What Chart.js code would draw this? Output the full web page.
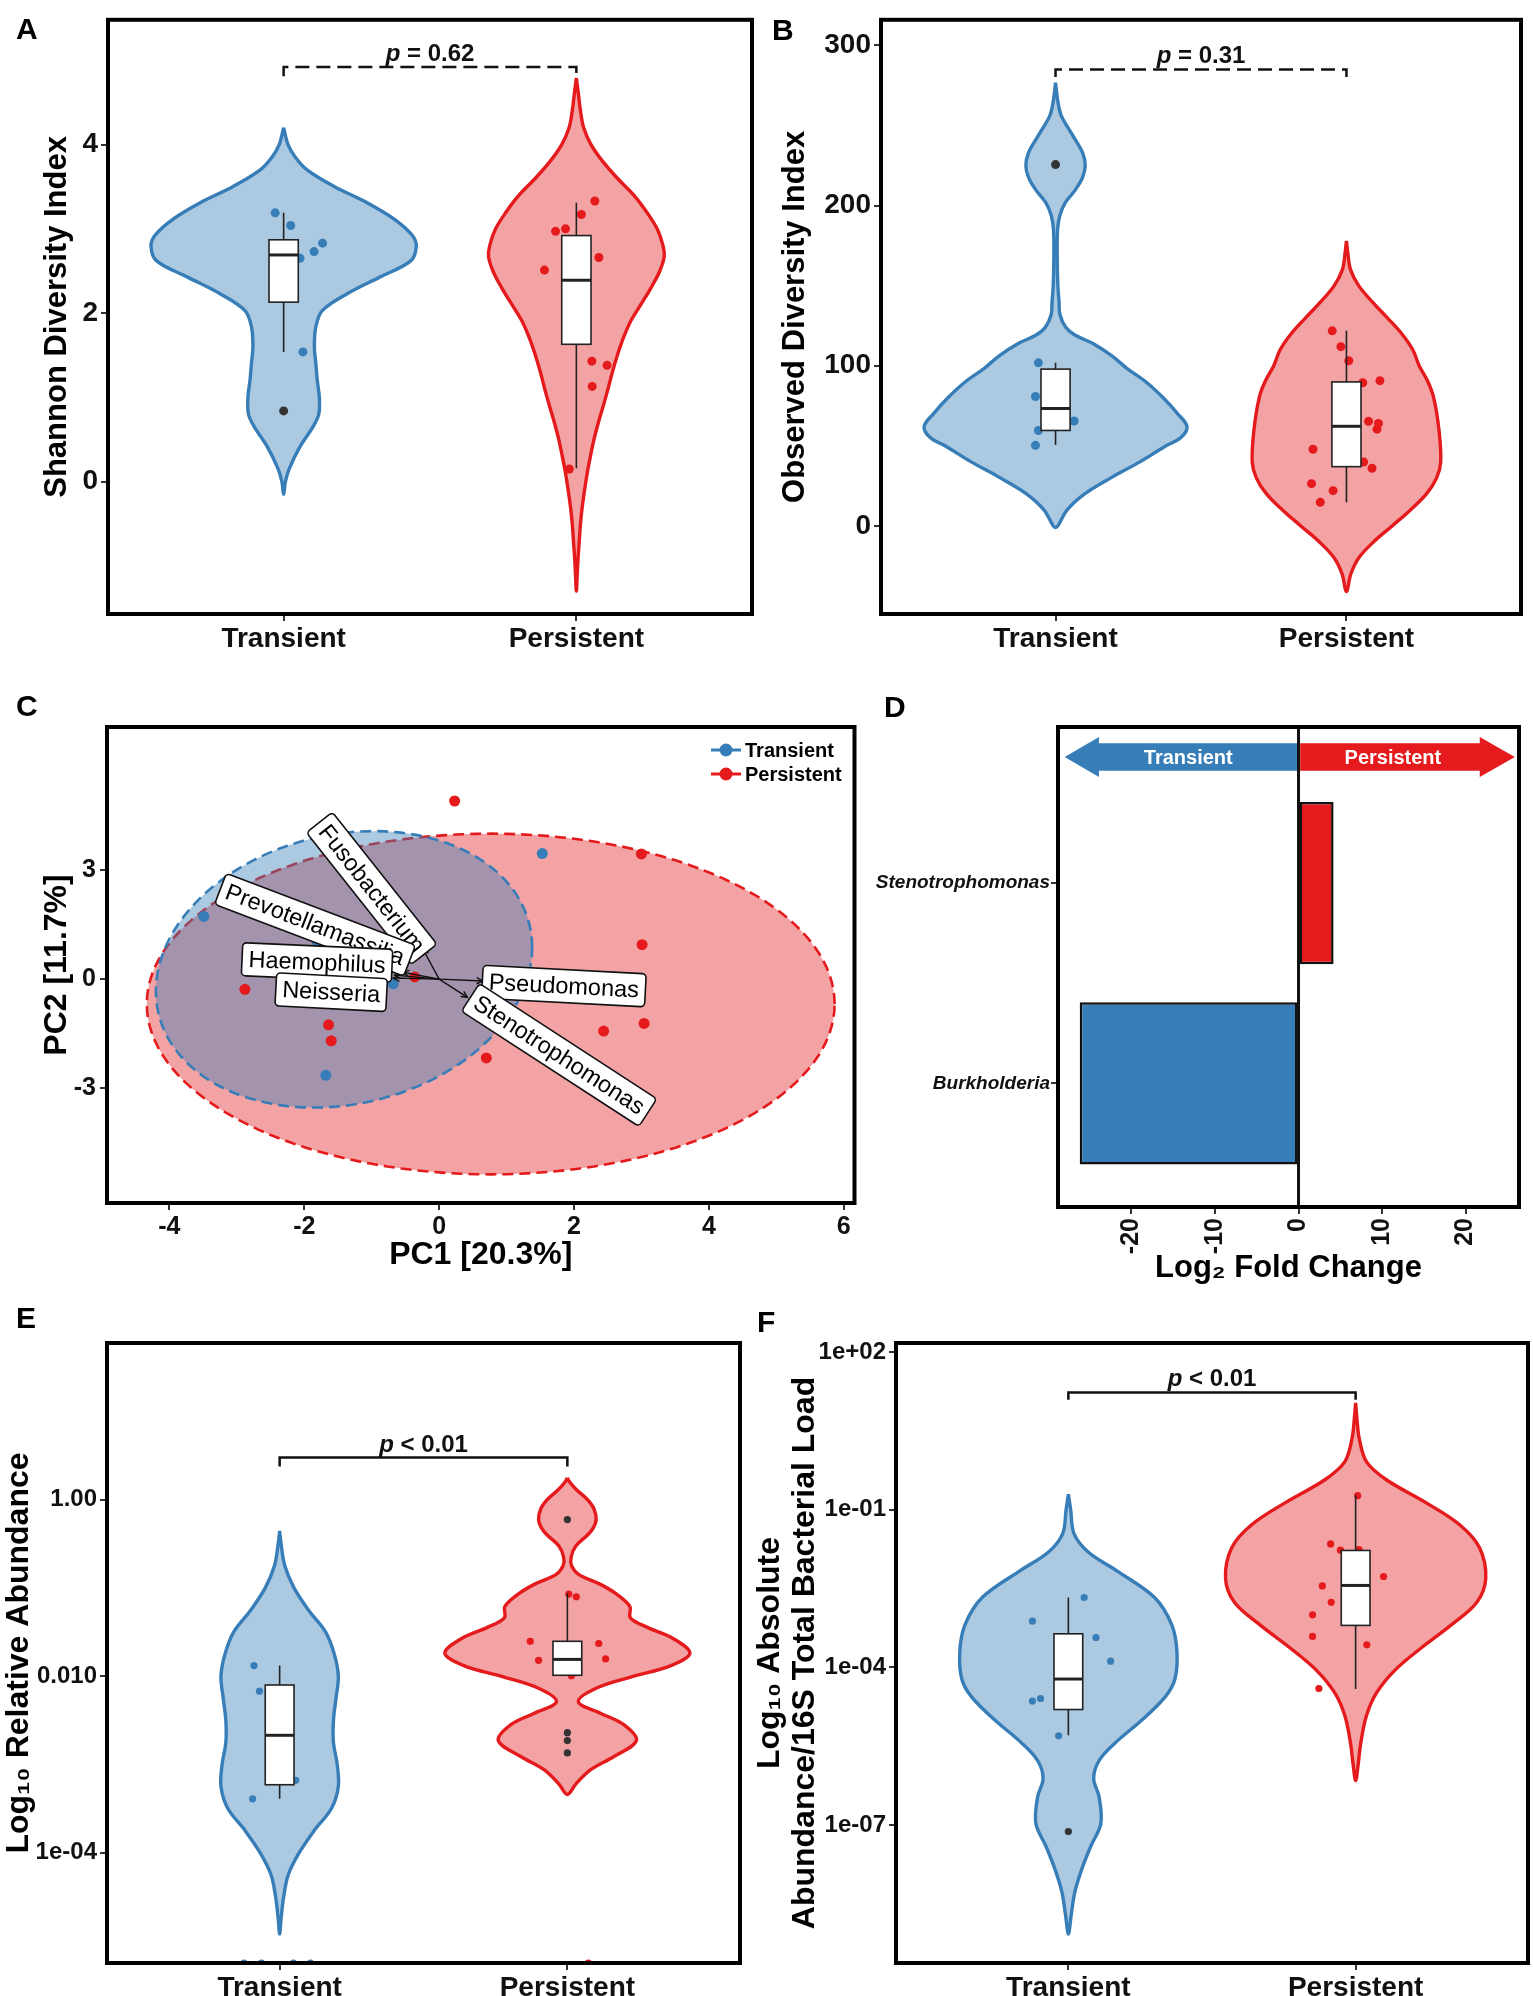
<!DOCTYPE html>
<html>
<head>
<meta charset="utf-8">
<title>Transient vs Persistent microbiome</title>
<script src="https://cdn.jsdelivr.net/npm/chart.js@4.4.0/dist/chart.umd.min.js"></script>
<style>
  html, body { margin: 0; padding: 0; background: #fff; }
  body { position: relative; width: 1533px; height: 1996px; overflow: hidden; font-family: 'Liberation Sans', Arial, sans-serif; }
  canvas { position: absolute; }
  .tag { position: absolute; font-size: 30px; font-weight: bold; line-height: 30px; color: #000; }
</style>
</head>
<body>
<canvas id="panelA" width="766" height="665" style="left:0;top:0"></canvas>
<canvas id="panelB" width="767" height="665" style="left:766px;top:0"></canvas>
<canvas id="panelC" width="860" height="600" style="left:0;top:680px"></canvas>
<canvas id="panelD" width="673" height="610" style="left:860px;top:680px"></canvas>
<canvas id="panelE" width="766" height="706" style="left:0;top:1290px"></canvas>
<canvas id="panelF" width="783" height="706" style="left:750px;top:1290px"></canvas>
<div class="tag" style="left:16px;top:14px">A</div>
<div class="tag" style="left:772px;top:15px">B</div>
<div class="tag" style="left:16px;top:691px">C</div>
<div class="tag" style="left:884px;top:692px">D</div>
<div class="tag" style="left:16px;top:1303px">E</div>
<div class="tag" style="left:757px;top:1307px">F</div>
<script>
// ---------------- data ----------------
const groups = ['Transient', 'Persistent'];

// A: Shannon diversity
const shannonRange = [-1.57, 5.48];
const shannonTicks = [0, 2, 4];
const shannonTickLabels = ['0', '2', '4'];
const shannonTrLevels = [4.2, 4.0, 3.85, 3.7, 3.5, 3.31, 3.11, 2.92, 2.79, 2.62, 2.43, 2.23, 2.03, 1.84, 1.6, 1.4, 1.2, 1.0, 0.8, 0.65, 0.41, 0.16, 0.0, -0.15];
const shannonTrWidths = [0, 0.015, 0.04, 0.08, 0.174, 0.285, 0.38, 0.44, 0.453, 0.434, 0.33, 0.217, 0.132, 0.11, 0.105, 0.11, 0.115, 0.122, 0.12, 0.1, 0.055, 0.02, 0.006, 0];
const shannonPeLevels = [4.79, 4.6, 4.4, 4.2, 4.0, 3.8, 3.6, 3.4, 3.2, 3.0, 2.8, 2.67, 2.5, 2.3, 2.1, 1.9, 1.7, 1.5, 1.3, 1.1, 0.9, 0.7, 0.5, 0.3, 0.1, -0.1, -0.3, -0.5, -0.7, -0.9, -1.1, -1.3];
const shannonPeWidths = [0, 0.007, 0.014, 0.025, 0.05, 0.09, 0.14, 0.196, 0.24, 0.276, 0.296, 0.3, 0.285, 0.255, 0.22, 0.185, 0.16, 0.14, 0.123, 0.108, 0.092, 0.075, 0.06, 0.048, 0.037, 0.028, 0.02, 0.014, 0.01, 0.006, 0.003, 0];
const shannonTrJitter = [-0.029, 0.024, 0.133, 0.104, 0.056, 0.066];
const shannonTrValues = [3.19, 3.04, 2.83, 2.73, 2.65, 1.54];
const shannonPeJitter = [0.063, 0.017, -0.071, -0.037, 0.077, -0.109, 0.053, 0.105, 0.054, -0.024];
const shannonPeValues = [3.33, 3.17, 2.97, 3.0, 2.66, 2.51, 1.43, 1.38, 1.13, 0.15];
const shannonTrOutliers = [0.84];
const shannonPeOutliers = [];
// lower whisker, q1, median, q3, upper whisker
const shannonBoxTr = [1.54, 2.13, 2.69, 2.87, 3.19];
const shannonBoxPe = [0.16, 1.63, 2.39, 2.92, 3.31];
const shannonP = 'p = 0.62';

// B: observed diversity
const observedRange = [-55, 316];
const observedTicks = [0, 100, 200, 300];
const observedTickLabels = ['0', '100', '200', '300'];
const observedTrLevels = [276.7, 265, 256, 243.5, 233, 225, 217.6, 209.8, 202, 194, 185, 165, 150, 140, 132, 124, 119, 114, 106, 98.4, 90, 80, 70, 62, 55, 50, 40, 30, 20, 10, 0, -1];
const observedTrWidths = [0, 0.008, 0.02, 0.06, 0.093, 0.102, 0.093, 0.068, 0.034, 0.015, 0.007, 0.006, 0.008, 0.012, 0.015, 0.035, 0.068, 0.127, 0.195, 0.245, 0.31, 0.37, 0.42, 0.452, 0.43, 0.38, 0.29, 0.19, 0.1, 0.04, 0.008, 0];
const observedPeLevels = [178, 170, 160, 150, 140, 130, 120, 110, 100, 90, 80, 60, 40, 30, 20, 10, 0, -10, -20, -30, -41];
const observedPeWidths = [0, 0.005, 0.014, 0.042, 0.088, 0.14, 0.19, 0.228, 0.25, 0.28, 0.3, 0.318, 0.324, 0.31, 0.275, 0.22, 0.157, 0.093, 0.042, 0.015, 0];
const observedTrJitter = [-0.059, -0.069, 0.064, -0.059, -0.069];
const observedTrValues = [101.8, 80.8, 65.5, 59.6, 50.3];
const observedPeJitter = [-0.049, -0.019, 0.008, 0.056, 0.115, 0.076, 0.11, 0.105, -0.115, 0.059, 0.088, -0.12, -0.046, -0.09];
const observedPeValues = [121.8, 111.9, 103.1, 89.4, 90.7, 65.3, 64, 60.4, 47.9, 39.9, 36, 26.4, 22, 14.8];
const observedTrOutliers = [225.6];
const observedPeOutliers = [];
const observedBoxTr = [50.5, 59.6, 73.3, 97.9, 101.8];
const observedBoxPe = [14.8, 37, 62.2, 89.9, 121.8];
const observedP = 'p = 0.31';

// C: PCA
const pcaRangeX = [-4.925, 6.16];
const pcaRangeY = [-6.17, 6.95];
const pcaTicksX = [-4, -2, 0, 2, 4, 6];
const pcaTicksY = [-3, 0, 3];
const pcaTrPC1 = [-3.49, -1.81, -0.68, -1.68, 1.53];
const pcaTrPC2 = [1.73, 1.04, -0.13, -2.65, 3.46];
const pcaPePC1 = [0.23, 3.0, 3.01, -2.88, -0.36, -1.64, -1.6, 2.44, 3.04, 0.70];
const pcaPePC2 = [4.91, 3.45, 0.95, -0.28, 0.06, -1.26, -1.7, -1.43, -1.22, -2.17];
// confidence ellipses: centre, radii, phase
const ellipseTr = { cx: -1.41, cy: 0.27, rx: 2.79, ry: 3.81, phi: 0.159 };
const ellipsePe = { cx: 0.765, cy: -0.685, rx: 5.1, ry: 4.695, phi: 0 };
const loadingGenus = ['Fusobacterium', 'Prevotellamassilia', 'Haemophilus', 'Neisseria', 'Pseudomonas', 'Stenotrophomonas'];
const loadingPC1 = [-0.24, -0.54, -0.66, -0.68, 0.65, 0.42];
const loadingPC2 = [0.83, 0.19, 0.11, 0.03, -0.05, -0.5];

// D: differential abundance
const daGenus = ['Burkholderia', 'Stenotrophomonas'];
const daLog2FC = [-26.2, 4.2];
const daRangeX = [-28.8, 26.4];
const daRangeY = [0.383, 2.78];
const daTicksX = [-20, -10, 0, 10, 20];

// E: relative abundance (log10)
const relRange = [-5.25, 1.775];
const relTicks = [0, -2, -4];
const relTickLabels = ['1.00', '0.010', '1e-04'];
const relTrLevels = [-0.354, -0.5, -0.75, -1.0, -1.25, -1.5, -1.75, -2.0, -2.25, -2.5, -2.75, -3.0, -3.25, -3.5, -3.75, -4.0, -4.25, -4.5, -4.75, -4.92];
const relTrWidths = [0, 0.005, 0.018, 0.05, 0.1, 0.16, 0.19, 0.204, 0.196, 0.187, 0.187, 0.2, 0.204, 0.18, 0.12, 0.068, 0.03, 0.014, 0.005, 0];
const relPeLevels = [0.246, 0.2, 0.118, 0.0, -0.1, -0.226, -0.32, -0.395, -0.523, -0.65, -0.75, -0.85, -0.96, -1.06, -1.21, -1.34, -1.45, -1.57, -1.74, -1.88, -2.01, -2.14, -2.29, -2.42, -2.55, -2.73, -2.91, -3.06, -3.22, -3.34];
const relPeWidths = [0, 0.008, 0.03, 0.07, 0.092, 0.1, 0.09, 0.072, 0.03, 0.013, 0.015, 0.04, 0.115, 0.166, 0.217, 0.219, 0.28, 0.366, 0.426, 0.36, 0.22, 0.098, 0.038, 0.115, 0.196, 0.24, 0.162, 0.081, 0.03, 0];
const relTrJitter = [-0.089, -0.07, 0.056, -0.094];
const relTrValues = [-1.88, -2.17, -3.18, -3.39];
const relPeJitter = [0.005, 0.031, -0.129, -0.1, 0.109, 0.133, 0.014];
const relPeValues = [-1.07, -1.10, -1.605, -1.82, -1.63, -1.805, -1.995];
const relTrZeroJitter = [-0.124, -0.063, 0.048, 0.107];   // zero abundance, shown on the lower edge
const relPeZeroJitter = [0.073];
const relTrOutliers = [];
const relPeOutliers = [-0.226, -2.64, -2.73, -2.87];
const relBoxTr = [-3.39, -3.23, -2.67, -2.1, -1.88];
const relBoxPe = [-1.995, -1.99, -1.81, -1.605, -1.06];
const relP = 'p < 0.01';

// F: absolute abundance / 16S load (log10)
const absRange = [-9.62, 2.17];
const absTicks = [2, -1, -4, -7];
const absTickLabels = ['1e+02', '1e-01', '1e-04', '1e-07'];
const absTrLevels = [-0.707, -1.0, -1.46, -1.81, -2.15, -2.67, -3.19, -3.7, -4.22, -4.56, -5.0, -5.42, -5.77, -6.11, -6.46, -6.97, -7.4, -7.83, -8.26, -8.7, -9.07];
const absTrWidths = [0, 0.008, 0.02, 0.07, 0.165, 0.3, 0.36, 0.378, 0.371, 0.337, 0.256, 0.166, 0.107, 0.088, 0.107, 0.113, 0.078, 0.047, 0.023, 0.01, 0];
const absPeLevels = [1.03, 0.7, 0.34, -0.09, -0.43, -0.86, -1.29, -1.72, -2.3, -2.76, -3.19, -3.62, -4.05, -4.48, -4.91, -5.43, -5.88, -6.15];
const absPeWidths = [0, 0.005, 0.013, 0.038, 0.107, 0.243, 0.363, 0.431, 0.453, 0.422, 0.333, 0.23, 0.137, 0.073, 0.038, 0.018, 0.008, 0];
const absTrJitter = [0.055, -0.125, 0.096, 0.147, -0.125, -0.097, -0.034];
const absTrValues = [-2.67, -3.12, -3.43, -3.88, -4.64, -4.59, -5.30];
const absPeJitter = [0.007, -0.087, -0.053, 0.012, 0.097, -0.116, -0.085, -0.15, -0.15, 0.039, -0.128];
const absPeValues = [-0.733, -1.65, -1.77, -1.76, -2.27, -2.45, -2.76, -3.0, -3.41, -3.57, -4.4];
const absTrOutliers = [-7.12];
const absPeOutliers = [];
const absBoxTr = [-5.29, -4.80, -4.22, -3.36, -2.67];
const absBoxPe = [-4.41, -3.2, -2.44, -1.775, -0.73];
const absP = 'p < 0.01';

// ---------------- look ----------------
const FONT = "'Liberation Sans', Arial, Helvetica, sans-serif";
Chart.defaults.font.family = FONT;
Chart.defaults.font.weight = 'bold';
Chart.defaults.color = '#111';

// the lower panels use a condensed face when one is installed
function hasFont(name) {
  const c = document.createElement('canvas').getContext('2d');
  c.font = 'bold 40px monospace';
  const a = c.measureText('Transient 0.010').width;
  c.font = `bold 40px '${name}', monospace`;
  return Math.abs(c.measureText('Transient 0.010').width - a) > 0.5;
}
const NARROW = ['Liberation Sans Narrow', 'Arial Narrow'].find(hasFont);
const LOW_FONT = NARROW ? `'${NARROW}', ${FONT}` : FONT;
const LOW_SCALE = NARROW ? 1 / 0.85 : 1;

const BLUE = '#377EB8', BLUE_FILL = 'rgba(55,126,184,0.42)';
const RED = '#E41A1C', RED_FILL = 'rgba(228,26,28,0.40)';
const INK = '#111';
const BOX_HALF = 0.05;

function tickGrid() {
  return { display: true, drawOnChartArea: false, drawTicks: true, tickLength: 7, color: '#333', lineWidth: 2, offset: false };
}
function fixedTicks(values) {
  return scale => { scale.ticks = values.map(v => ({ value: v })); };
}

function violinOutline(center, levels, widths) {
  const right = levels.map((y, i) => ({ x: center + widths[i], y }));
  const left = levels.map((y, i) => ({ x: center - widths[i], y })).reverse();
  return right.concat(left.slice(1));
}
function jitter(center, offsets, values) {
  return values.map((v, i) => ({ x: center + offsets[i], y: v }));
}

function drawFrame(chart) {
  const { ctx, chartArea: a } = chart;
  ctx.save();
  ctx.lineWidth = 4;
  ctx.strokeStyle = '#000';
  ctx.strokeRect(a.left, a.top, a.right - a.left, a.bottom - a.top);
  ctx.restore();
}

function drawPValue(ctx, cx, baseY, text, family, size) {
  const rest = text.slice(1);
  ctx.font = `italic bold ${size}px ${family}`;
  const w1 = ctx.measureText('p').width;
  ctx.font = `bold ${size}px ${family}`;
  const w2 = ctx.measureText(rest).width;
  const x0 = cx - (w1 + w2) / 2;
  ctx.fillStyle = INK;
  ctx.textAlign = 'left';
  ctx.textBaseline = 'alphabetic';
  ctx.font = `italic bold ${size}px ${family}`;
  ctx.fillText('p', x0, baseY);
  ctx.font = `bold ${size}px ${family}`;
  ctx.fillText(rest, x0 + w1, baseY);
}

function drawBoxes(chart, boxes) {
  const { ctx, scales: { x, y } } = chart;
  boxes.forEach((b, i) => {
    const c = i + 1;
    const [lo, q1, med, q3, hi] = b;
    const xc = x.getPixelForValue(c);
    const xl = x.getPixelForValue(c - BOX_HALF), xr = x.getPixelForValue(c + BOX_HALF);
    const yTop = y.getPixelForValue(q3), yBot = y.getPixelForValue(q1);
    ctx.save();
    ctx.strokeStyle = '#222';
    ctx.lineWidth = 1.6;
    ctx.beginPath();
    ctx.moveTo(xc, y.getPixelForValue(hi)); ctx.lineTo(xc, yTop);
    ctx.moveTo(xc, yBot); ctx.lineTo(xc, y.getPixelForValue(lo));
    ctx.stroke();
    ctx.fillStyle = '#fff';
    ctx.fillRect(xl, yTop, xr - xl, yBot - yTop);
    ctx.strokeRect(xl, yTop, xr - xl, yBot - yTop);
    ctx.lineWidth = 3;
    const ym = y.getPixelForValue(med);
    ctx.beginPath(); ctx.moveTo(xl, ym); ctx.lineTo(xr, ym); ctx.stroke();
    ctx.restore();
  });
}

function drawBracket(chart, br, family, size) {
  const { ctx, scales: { x, y } } = chart;
  const x1 = x.getPixelForValue(1), x2 = x.getPixelForValue(2);
  const yt = y.getPixelForValue(br.y), yb = y.getPixelForValue(br.y - br.drop);
  ctx.save();
  ctx.strokeStyle = INK;
  ctx.lineWidth = 2.5;
  if (br.dashed) ctx.setLineDash([14, 7]);
  ctx.beginPath();
  ctx.moveTo(x1, yb); ctx.lineTo(x1, yt); ctx.lineTo(x2, yt); ctx.lineTo(x2, yb);
  ctx.stroke();
  ctx.setLineDash([]);
  drawPValue(ctx, (x1 + x2) / 2, yt - 6, br.text, family, size);
  ctx.restore();
}

function violinExtras(cfg) {
  return {
    id: 'violinExtras',
    beforeDatasetDraw(chart, args) {
      const ds = chart.data.datasets[args.index];
      if (!ds.violinFill) return;
      const line = args.meta.dataset;
      const ctx = chart.ctx;
      if (line.updateControlPoints) line.updateControlPoints(chart.chartArea, 'x');
      ctx.save();
      ctx.beginPath();
      line.path(ctx);
      ctx.closePath();
      ctx.fillStyle = ds.violinFill;
      ctx.fill();
      ctx.restore();
    },
    afterDatasetDraw(chart, args) {
      if (chart.data.datasets[args.index].boxesAfter) drawBoxes(chart, cfg.boxes);
    },
    afterDraw(chart) {
      drawBracket(chart, cfg.bracket, cfg.family, 24 * cfg.fs);
      drawFrame(chart);
    }
  };
}

function violinPanel(id, cfg) {
  cfg.family = cfg.family || FONT;
  cfg.fs = cfg.fs || 1;
  const dot = cfg.dot;
  const outliers = cfg.trOutliers.map(v => ({ x: 1, y: v })).concat(cfg.peOutliers.map(v => ({ x: 2, y: v })));
  const datasets = [
    { data: outliers, backgroundColor: '#333', pointRadius: dot, borderWidth: 0 },
    { data: jitter(1, cfg.trJitter, cfg.trValues), backgroundColor: BLUE, pointRadius: dot, borderWidth: 0, boxesAfter: true },
    { data: jitter(2, cfg.peJitter, cfg.peValues), backgroundColor: RED, pointRadius: dot, borderWidth: 0 }
  ];
  (cfg.edge || []).forEach(e => {
    datasets.push({ data: e.offsets.map(d => ({ x: e.center + d, y: cfg.range[0] })), backgroundColor: e.color, pointRadius: dot, borderWidth: 0, clip: 0 });
  });
  [[1, cfg.trLevels, cfg.trWidths, BLUE, BLUE_FILL], [2, cfg.peLevels, cfg.peWidths, RED, RED_FILL]].forEach(([c, lv, w, line, fill]) => {
    datasets.push({ data: violinOutline(c, lv, w), showLine: true, pointRadius: 0, borderColor: line, borderWidth: 3.4, borderJoinStyle: 'round', fill: false, tension: 0.35, violinFill: fill });
  });

  const titleSize = (cfg.titleSize || 31) * cfg.fs;
  const linePx = cfg.titleLine || titleSize * 1.2;

  return new Chart(document.getElementById(id), {
    type: 'scatter',
    data: { datasets },
    options: {
      responsive: false,
      animation: false,
      events: [],
      layout: { padding: { top: cfg.padTop, right: cfg.padRight, left: 0, bottom: 0 } },
      plugins: { legend: { display: false }, tooltip: { enabled: false } },
      scales: {
        x: {
          type: 'linear', min: 0.4, max: 2.6, bounds: 'data',
          afterBuildTicks: fixedTicks([1, 2]),
          afterFit: s => { s.height = cfg.xHeight; },
          ticks: { callback: v => groups[v - 1], font: { family: cfg.family, size: 28 * cfg.fs, weight: 'bold' }, color: INK, padding: 1, autoSkip: false, maxRotation: 0 },
          grid: tickGrid(),
          border: { display: false }
        },
        y: {
          type: 'linear', min: cfg.range[0], max: cfg.range[1], bounds: 'data',
          afterBuildTicks: fixedTicks(cfg.ticks),
          afterFit: s => { s.width = cfg.yWidth; },
          ticks: { callback: v => cfg.tickLabels[cfg.ticks.indexOf(v)], font: { family: cfg.family, size: cfg.tickSize * cfg.fs, weight: 'bold' }, color: INK, padding: 3, autoSkip: false },
          grid: tickGrid(),
          border: { display: false },
          title: {
            display: true, text: cfg.title, color: '#000',
            font: { family: cfg.family, size: titleSize, weight: 'bold', lineHeight: linePx / titleSize },
            padding: { top: cfg.titleCenter - linePx / 2, bottom: 0 }
          }
        }
      }
    },
    plugins: [violinExtras(cfg)]
  });
}

// ---------------- A ----------------
violinPanel('panelA', {
  range: shannonRange, ticks: shannonTicks, tickLabels: shannonTickLabels,
  trLevels: shannonTrLevels, trWidths: shannonTrWidths, peLevels: shannonPeLevels, peWidths: shannonPeWidths,
  trJitter: shannonTrJitter, trValues: shannonTrValues, peJitter: shannonPeJitter, peValues: shannonPeValues,
  trOutliers: shannonTrOutliers, peOutliers: shannonPeOutliers,
  boxes: [shannonBoxTr, shannonBoxPe],
  bracket: { y: 4.92, drop: 0.11, dashed: true, text: shannonP },
  title: 'Shannon Diversity Index', titleCenter: 57, tickSize: 28,
  padTop: 8, padRight: 14, yWidth: 108, xHeight: 51, dot: 4.5
});

// ---------------- B ----------------
violinPanel('panelB', {
  range: observedRange, ticks: observedTicks, tickLabels: observedTickLabels,
  trLevels: observedTrLevels, trWidths: observedTrWidths, peLevels: observedPeLevels, peWidths: observedPeWidths,
  trJitter: observedTrJitter, trValues: observedTrValues, peJitter: observedPeJitter, peValues: observedPeValues,
  trOutliers: observedTrOutliers, peOutliers: observedPeOutliers,
  boxes: [observedBoxTr, observedBoxPe],
  bracket: { y: 285, drop: 4.7, dashed: true, text: observedP },
  title: 'Observed Diversity Index', titleCenter: 29, tickSize: 28,
  padTop: 8, padRight: 12, yWidth: 115, xHeight: 51, dot: 4.5
});

// ---------------- E ----------------
violinPanel('panelE', {
  range: relRange, ticks: relTicks, tickLabels: relTickLabels,
  trLevels: relTrLevels, trWidths: relTrWidths, peLevels: relPeLevels, peWidths: relPeWidths,
  trJitter: relTrJitter, trValues: relTrValues, peJitter: relPeJitter, peValues: relPeValues,
  trOutliers: relTrOutliers, peOutliers: relPeOutliers,
  edge: [{ center: 1, offsets: relTrZeroJitter, color: BLUE }, { center: 2, offsets: relPeZeroJitter, color: RED }],
  boxes: [relBoxTr, relBoxPe],
  bracket: { y: 0.477, drop: 0.1, dashed: false, text: relP },
  title: 'Log\u2081\u2080 Relative Abundance', titleCenter: 19, titleSize: 32, titleLine: 34, tickSize: 24,
  family: LOW_FONT, fs: LOW_SCALE,
  padTop: 53, padRight: 26, yWidth: 107, xHeight: 33, dot: 3.6
});

// ---------------- F ----------------
violinPanel('panelF', {
  range: absRange, ticks: absTicks, tickLabels: absTickLabels,
  trLevels: absTrLevels, trWidths: absTrWidths, peLevels: absPeLevels, peWidths: absPeWidths,
  trJitter: absTrJitter, trValues: absTrValues, peJitter: absPeJitter, peValues: absPeValues,
  trOutliers: absTrOutliers, peOutliers: absPeOutliers,
  boxes: [absBoxTr, absBoxPe],
  bracket: { y: 1.23, drop: 0.14, dashed: false, text: absP },
  title: ['Log\u2081\u2080 Absolute', 'Abundance/16S Total Bacterial Load'], titleCenter: 20, titleSize: 32, titleLine: 35, tickSize: 24,
  family: LOW_FONT, fs: LOW_SCALE,
  padTop: 53, padRight: 5, yWidth: 146, xHeight: 33, dot: 3.6
});

// ---------------- C: PCA biplot ----------------
const labelPlacement = [
  { pc1: -1.0, pc2: 2.5, angle: 51.6 },
  { pc1: -1.84, pc2: 1.5, angle: 20.8 },
  { pc1: -1.81, pc2: 0.46, angle: 2.5 },
  { pc1: -1.6, pc2: -0.36, angle: 3 },
  { pc1: 1.85, pc2: -0.19, angle: 3 },
  { pc1: 1.78, pc2: -2.09, angle: 33 }
];

function ellipsePath(ctx, x, y, e) {
  ctx.beginPath();
  for (let k = 0; k <= 144; k++) {
    const t = k / 144 * Math.PI * 2;
    const px = x.getPixelForValue(e.cx + e.rx * Math.cos(t));
    const py = y.getPixelForValue(e.cy + e.ry * Math.sin(t + e.phi));
    if (k === 0) ctx.moveTo(px, py); else ctx.lineTo(px, py);
  }
  ctx.closePath();
}

function drawTag(ctx, px, py, text, angle) {
  ctx.save();
  ctx.translate(px, py);
  ctx.rotate(angle * Math.PI / 180);
  ctx.font = `23.5px ${FONT}`;
  const w = ctx.measureText(text).width + 13, h = 33;
  ctx.beginPath();
  if (ctx.roundRect) ctx.roundRect(-w / 2, -h / 2, w, h, 4); else ctx.rect(-w / 2, -h / 2, w, h);
  ctx.fillStyle = '#fff';
  ctx.fill();
  ctx.lineWidth = 1.6;
  ctx.strokeStyle = INK;
  ctx.stroke();
  ctx.fillStyle = '#000';
  ctx.textAlign = 'center';
  ctx.textBaseline = 'middle';
  ctx.fillText(text, 0, 1);
  ctx.restore();
}

function arrowTo(ctx, x0, y0, x1, y1) {
  const a = Math.atan2(y1 - y0, x1 - x0), head = 7;
  ctx.beginPath(); ctx.moveTo(x0, y0); ctx.lineTo(x1, y1); ctx.stroke();
  ctx.beginPath();
  ctx.moveTo(x1 - head * Math.cos(a - 0.45), y1 - head * Math.sin(a - 0.45));
  ctx.lineTo(x1, y1);
  ctx.lineTo(x1 - head * Math.cos(a + 0.45), y1 - head * Math.sin(a + 0.45));
  ctx.stroke();
}

const pcaExtras = {
  id: 'pcaExtras',
  beforeDatasetsDraw(chart) {
    const { ctx, scales: { x, y } } = chart;
    ctx.save();
    ctx.lineWidth = 2.6;
    ctx.setLineDash([11, 6]);
    [[ellipsePe, RED, RED_FILL], [ellipseTr, BLUE, BLUE_FILL]].forEach(([e, line, fill]) => {
      ellipsePath(ctx, x, y, e);
      ctx.fillStyle = fill; ctx.fill();
      ctx.strokeStyle = line; ctx.stroke();
    });
    ctx.restore();
  },
  afterDatasetsDraw(chart) {
    const { ctx, scales: { x, y } } = chart;
    const ox = x.getPixelForValue(0), oy = y.getPixelForValue(0);
    ctx.save();
    ctx.strokeStyle = INK;
    ctx.lineWidth = 1.4;
    loadingGenus.forEach((g, i) => arrowTo(ctx, ox, oy, x.getPixelForValue(loadingPC1[i]), y.getPixelForValue(loadingPC2[i])));
    loadingGenus.forEach((g, i) => {
      const p = labelPlacement[i];
      drawTag(ctx, x.getPixelForValue(p.pc1), y.getPixelForValue(p.pc2), g, p.angle);
    });
    // legend
    [[groups[0], BLUE, 70], [groups[1], RED, 94]].forEach(([label, col, ly]) => {
      ctx.strokeStyle = col; ctx.lineWidth = 3;
      ctx.beginPath(); ctx.moveTo(711, ly); ctx.lineTo(741, ly); ctx.stroke();
      ctx.fillStyle = col;
      ctx.beginPath(); ctx.arc(726, ly, 6.5, 0, Math.PI * 2); ctx.fill();
      ctx.fillStyle = '#000';
      ctx.font = `bold 20px ${FONT}`;
      ctx.textAlign = 'left'; ctx.textBaseline = 'middle';
      ctx.fillText(label, 745, ly + 1);
    });
    ctx.restore();
  },
  afterDraw(chart) { drawFrame(chart); }
};

new Chart(document.getElementById('panelC'), {
  type: 'scatter',
  data: {
    datasets: [
      { label: groups[0], data: pcaTrPC1.map((v, i) => ({ x: v, y: pcaTrPC2[i] })), backgroundColor: BLUE, pointRadius: 5.5, borderWidth: 0 },
      { label: groups[1], data: pcaPePC1.map((v, i) => ({ x: v, y: pcaPePC2[i] })), backgroundColor: RED, pointRadius: 5.5, borderWidth: 0 }
    ]
  },
  options: {
    responsive: false, animation: false, events: [],
    layout: { padding: { top: 47, right: 4, left: 0, bottom: 0 } },
    plugins: { legend: { display: false }, tooltip: { enabled: false } },
    scales: {
      x: {
        type: 'linear', min: pcaRangeX[0], max: pcaRangeX[1], bounds: 'data',
        afterBuildTicks: fixedTicks(pcaTicksX),
        afterFit: s => { s.height = 77; },
        ticks: { callback: v => String(v), font: { size: 25, weight: 'bold' }, color: INK, padding: 2, autoSkip: false, maxRotation: 0 },
        grid: tickGrid(), border: { display: false },
        title: { display: true, text: 'PC1 [20.3%]', color: '#000', font: { size: 32, weight: 'bold' }, padding: { top: 0, bottom: 6 } }
      },
      y: {
        type: 'linear', min: pcaRangeY[0], max: pcaRangeY[1], bounds: 'data',
        afterBuildTicks: fixedTicks(pcaTicksY),
        afterFit: s => { s.width = 107; },
        ticks: { callback: v => String(v), font: { size: 25, weight: 'bold' }, color: INK, padding: 4, autoSkip: false },
        grid: tickGrid(), border: { display: false },
        title: { display: true, text: 'PC2 [11.7%]', color: '#000', font: { size: 32, weight: 'bold' }, padding: { top: 38, bottom: 0 } }
      }
    }
  },
  plugins: [pcaExtras]
});

// ---------------- D: log2 fold change ----------------
const daArrowY = 2.63;
const daExtras = {
  id: 'daExtras',
  afterDatasetsDraw(chart) {
    const { ctx, scales: { x, y }, chartArea: a } = chart;
    const yc = y.getPixelForValue(daArrowY);
    const shaft = y.getPixelForValue(daArrowY - 0.069) - yc;
    const head = y.getPixelForValue(daArrowY - 0.1) - yc;
    ctx.save();
    [[0, -23.9, -28, BLUE, groups[0], -13.2], [0.2, 21.7, 25.9, RED, groups[1], 11.3]].forEach(([x0, xb, xt, col, label, xl]) => {
      const p0 = x.getPixelForValue(x0), pb = x.getPixelForValue(xb), pt = x.getPixelForValue(xt);
      ctx.fillStyle = col;
      ctx.beginPath();
      ctx.moveTo(p0, yc - shaft); ctx.lineTo(pb, yc - shaft); ctx.lineTo(pb, yc - head);
      ctx.lineTo(pt, yc); ctx.lineTo(pb, yc + head); ctx.lineTo(pb, yc + shaft); ctx.lineTo(p0, yc + shaft);
      ctx.closePath(); ctx.fill();
      ctx.fillStyle = '#fff';
      ctx.font = `bold 20px ${FONT}`;
      ctx.textAlign = 'center'; ctx.textBaseline = 'middle';
      ctx.fillText(label, x.getPixelForValue(xl), yc + 1);
    });
    const x0 = x.getPixelForValue(0);
    ctx.strokeStyle = INK; ctx.lineWidth = 3;
    ctx.beginPath(); ctx.moveTo(x0, a.top); ctx.lineTo(x0, a.bottom); ctx.stroke();
    ctx.restore();
  },
  afterDraw(chart) { drawFrame(chart); }
};

new Chart(document.getElementById('panelD'), {
  type: 'bar',
  data: {
    datasets: [{
      data: daGenus.map((g, i) => ({ x: daLog2FC[i], y: i + 1 })),
      backgroundColor: daLog2FC.map(v => v < 0 ? BLUE : RED),
      borderColor: INK, borderWidth: 2.5, borderSkipped: false,
      categoryPercentage: 1, barPercentage: 0.81
    }]
  },
  options: {
    indexAxis: 'y',
    responsive: false, animation: false, events: [],
    layout: { padding: { top: 47, right: 14, left: 0, bottom: 0 } },
    plugins: { legend: { display: false }, tooltip: { enabled: false } },
    scales: {
      x: {
        type: 'linear', min: daRangeX[0], max: daRangeX[1], bounds: 'data',
        afterBuildTicks: fixedTicks(daTicksX),
        afterFit: s => { s.height = 83; },
        ticks: { callback: v => String(v), font: { size: 25, weight: 'bold' }, color: INK, padding: 4, autoSkip: false, minRotation: 90, maxRotation: 90 },
        grid: tickGrid(), border: { display: false },
        title: { display: true, text: 'Log\u2082 Fold Change', color: '#000', font: { size: 31, weight: 'bold' }, padding: { top: 0, bottom: 3 } }
      },
      y: {
        type: 'linear', min: daRangeY[0], max: daRangeY[1], bounds: 'data', offset: false,
        afterBuildTicks: fixedTicks([1, 2]),
        afterFit: s => { s.width = 198; },
        ticks: { callback: v => daGenus[v - 1], font: { size: 19, weight: 'bold', style: 'italic' }, color: INK, padding: 1, autoSkip: false },
        grid: tickGrid(), border: { display: false }
      }
    }
  },
  plugins: [daExtras]
});
</script>
</body>
</html>
